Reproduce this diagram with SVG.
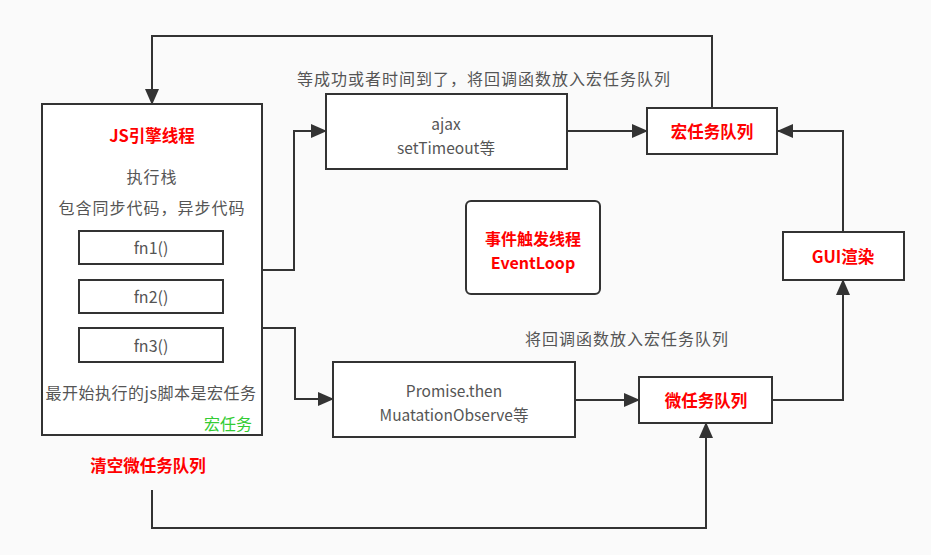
<svg xmlns="http://www.w3.org/2000/svg" width="931" height="555" viewBox="0 0 931 555">
<style>
.box{fill:#fff;stroke:#333;stroke-width:2}
.t{font-family:"Microsoft YaHei","Noto Sans CJK SC","Noto Sans",sans-serif;font-size:16px;fill:#555;text-anchor:middle;dominant-baseline:central}
.s{font-size:15.5px}
.r{fill:#ff0000;font-weight:bold;font-size:16.5px}
.r2{font-size:16px}
.g{fill:#33cc33;font-size:16px}
.c{fill:none;stroke:#333;stroke-width:2}
</style>
<defs>
<marker id="ah" markerWidth="16" markerHeight="14" refX="15" refY="7" orient="auto" markerUnits="userSpaceOnUse">
<path d="M0,0 L16,7 L0,14 Z" fill="#333"/>
</marker>
</defs>
<rect width="931" height="555" fill="#fafafa"/>
<g id="connectors">
<path class="c" d="M262,270 H294 V131 H326" marker-end="url(#ah)"/>
<path class="c" d="M567,131 H647" marker-end="url(#ah)"/>
<path class="c" d="M712,108 V36 H152 V104" marker-end="url(#ah)"/>
<path class="c" d="M843,232 V131 H778" marker-end="url(#ah)"/>
<path class="c" d="M262,328 H295 V399 H333" marker-end="url(#ah)"/>
<path class="c" d="M575,400 H639" marker-end="url(#ah)"/>
<path class="c" d="M772,400 H843 V280" marker-end="url(#ah)"/>
<path class="c" d="M152,490 V528 H706 V423" marker-end="url(#ah)"/>
<text class="t" x="484" y="78" letter-spacing="1">等成功或者时间到了，将回调函数放入宏任务队列</text>
<text class="t" x="627" y="338" letter-spacing="1">将回调函数放入宏任务队列</text>
</g>
<g id="js-engine">
<rect class="box" x="42" y="104" width="220" height="331"/>
<text class="t r" x="152" y="135">JS引擎线程</text>
<text class="t" x="152" y="176" letter-spacing="1">执行栈</text>
<text class="t" x="152" y="207" letter-spacing="1">包含同步代码，异步代码</text>
<text class="t" x="151" y="392" letter-spacing="0.5">最开始执行的js脚本是宏任务</text>
<text class="t g" x="252" y="423" style="text-anchor:end">宏任务</text>
</g>
<g id="fn1"><rect class="box" x="79" y="231" width="144" height="33"/><text class="t" x="151" y="247">fn1()</text></g>
<g id="fn2"><rect class="box" x="79" y="280" width="144" height="33"/><text class="t" x="151" y="296">fn2()</text></g>
<g id="fn3"><rect class="box" x="79" y="328" width="144" height="34"/><text class="t" x="151" y="345">fn3()</text></g>
<g id="ajax"><rect class="box" x="326" y="94" width="241" height="75"/><text class="t s" x="446" y="123">ajax</text><text class="t s" x="446" y="147">setTimeout等</text></g>
<g id="macro-queue"><rect class="box" x="647" y="108" width="130" height="46"/><text class="t r" x="712" y="131">宏任务队列</text></g>
<g id="event-loop"><rect class="box" x="466" y="201" width="134" height="93" rx="5"/><text class="t r r2" x="533" y="238">事件触发线程</text><text class="t r r2" x="533" y="262">EventLoop</text></g>
<g id="gui"><rect class="box" x="783" y="232" width="121" height="48"/><text class="t r" x="843" y="256">GUI渲染</text></g>
<g id="promise"><rect class="box" x="333" y="362" width="242" height="75"/><text class="t s" x="454" y="390">Promise.then</text><text class="t s" x="454" y="414">MuatationObserve等</text></g>
<g id="micro-queue"><rect class="box" x="639" y="377" width="133" height="46"/><text class="t r" x="706" y="400">微任务队列</text></g>
<g id="clear-micro"><text class="t r" x="148" y="465">清空微任务队列</text></g>
</svg>
